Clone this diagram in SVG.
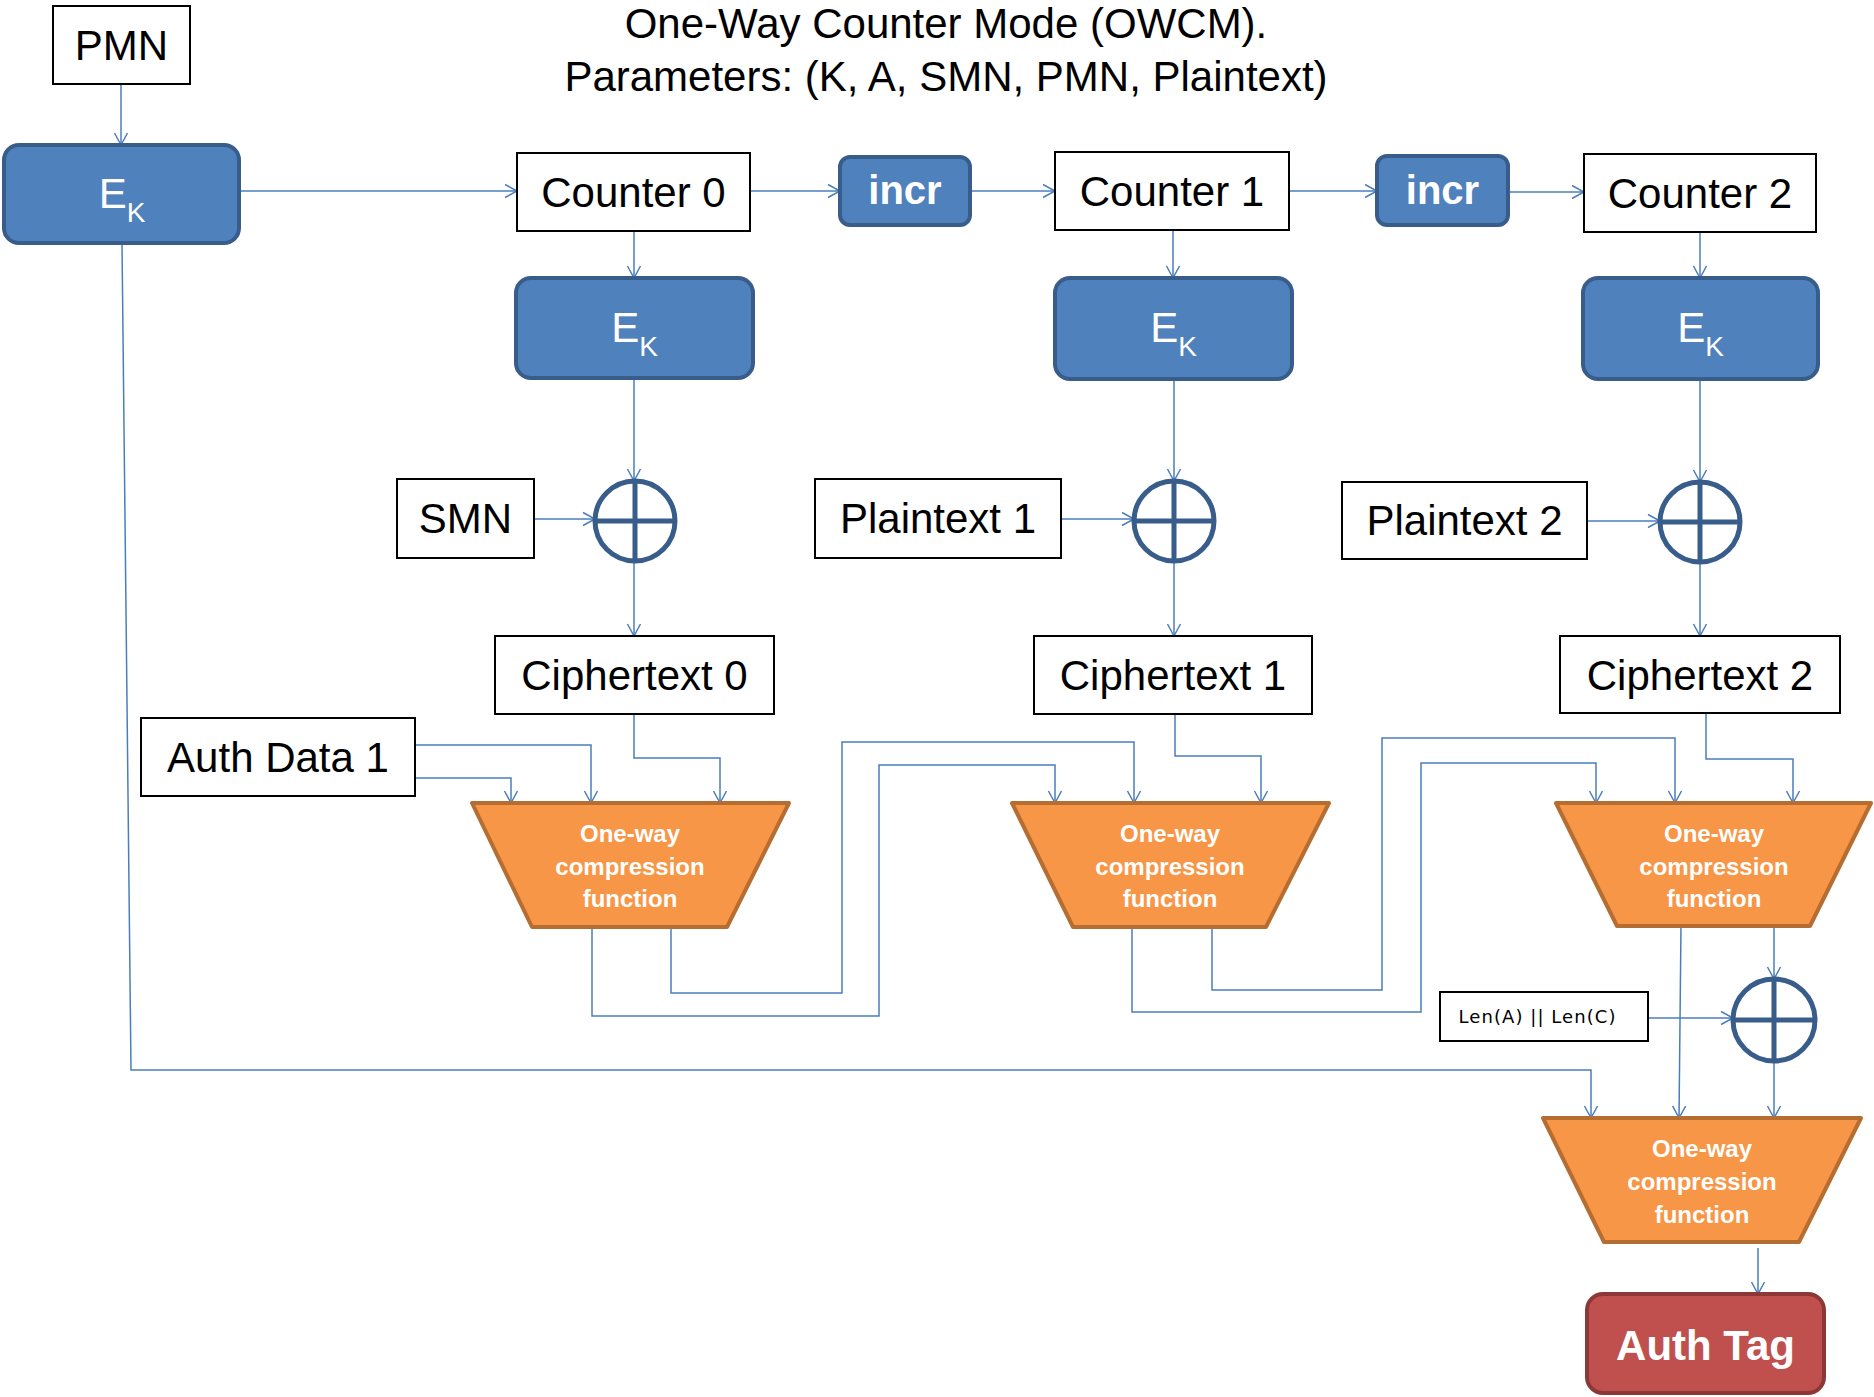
<svg xmlns="http://www.w3.org/2000/svg" width="1874" height="1397" viewBox="0 0 1874 1397">
<defs>
<style>
.box{fill:#fff;stroke:#000;stroke-width:2}
.blue{fill:#4f81bd;stroke:#385d8a;stroke-width:4}
.trap{fill:#f79646;stroke:#b66d31;stroke-width:4;stroke-linejoin:round}
.tag{fill:#c0504d;stroke:#8c3836;stroke-width:4}
.xorc{fill:#fff;stroke:#385d8a;stroke-width:5}
.xorl{stroke:#385d8a;stroke-width:5;fill:none}
.lbl{font-family:"Liberation Sans",Arial,sans-serif;font-size:42px;text-anchor:middle;fill:#000}
.ek{font-family:"Liberation Sans",Arial,sans-serif;font-size:42px;text-anchor:middle;fill:#fff}
.incr{font-family:"Liberation Sans",Arial,sans-serif;font-size:40px;font-weight:bold;text-anchor:middle;fill:#fff}
.tt{font-family:"Liberation Sans",Arial,sans-serif;font-size:24px;font-weight:bold;text-anchor:middle;fill:#fff}
.len{font-family:"DejaVu Sans",Verdana,sans-serif;font-size:18px;text-anchor:middle;fill:#000}
.auth{font-family:"Liberation Sans",Arial,sans-serif;font-size:42px;font-weight:bold;text-anchor:middle;fill:#fff}
#connectors path{fill:none;stroke:#4a7ebb;stroke-width:1.5;marker-end:url(#arr)}
</style>
<marker id="arr" markerWidth="16" markerHeight="16" refX="13" refY="7" orient="auto" markerUnits="userSpaceOnUse" overflow="visible">
<path d="M1,0.5 L13,7 L1,13.5" fill="none" stroke="#4a7ebb" stroke-width="1.5"/>
</marker>
</defs>
<rect width="1874" height="1397" fill="#fff"/>

<g id="title">
<text class="lbl" x="946" y="38" font-size="41">One-Way Counter Mode (OWCM).</text>
<text class="lbl" x="946" y="91">Parameters: (K, A, SMN, PMN, Plaintext)</text>
</g>

<g id="connectors">
<path d="M121,84 L121,145"/>
<path d="M239,191 L517,191"/>
<path d="M750,191 L840,191"/>
<path d="M970,191 L1055,191"/>
<path d="M1289,191 L1377,191"/>
<path d="M1508,192 L1584,192"/>
<path d="M634,231 L634,278"/>
<path d="M1173,230 L1173,278"/>
<path d="M1700,232 L1700,278"/>
<path d="M634,378 L634,481"/>
<path d="M1174,379 L1174,481"/>
<path d="M1700,379 L1700,482"/>
<path d="M522,519 L595,519"/>
<path d="M1061,519 L1134,519"/>
<path d="M1587,521 L1660,521"/>
<path d="M634,561 L634,636"/>
<path d="M1174,561 L1174,636"/>
<path d="M1700,562 L1700,636"/>
<path d="M415,745 L591,745 L591,803"/>
<path d="M415,778 L511,778 L511,803"/>
<path d="M634,714 L634,758 L720,758 L720,803"/>
<path d="M592,927 L592,1016 L879,1016 L879,765 L1055,765 L1055,803"/>
<path d="M671,927 L671,993 L842,993 L842,742 L1134,742 L1134,803"/>
<path d="M1175,714 L1175,756 L1261,756 L1261,803"/>
<path d="M1132,927 L1132,1012 L1421,1012 L1421,763 L1596,763 L1596,803"/>
<path d="M1212,927 L1212,990 L1382,990 L1382,738 L1675,738 L1675,803"/>
<path d="M1706,713 L1706,759 L1793,759 L1793,803"/>
<path d="M1774,926 L1774,979"/>
<path d="M1681,926 L1679,1118"/>
<path d="M1648,1018 L1733,1018"/>
<path d="M1774,1061 L1774,1118"/>
<path d="M122,243 L131,1070 L1591,1070 L1591,1118"/>
<path d="M1758,1248 L1758,1294"/>
</g>

<g id="pmn"><rect class="box" x="53" y="6" width="137" height="78"/><text class="lbl" x="121.5" y="60">PMN</text></g>
<g id="ek-pmn"><rect class="blue" x="4" y="145" width="235" height="98" rx="15"/><text class="ek" x="122" y="208">E<tspan dy="14" font-size="28">K</tspan></text></g>

<g id="counter0"><rect class="box" x="517" y="153" width="233" height="78"/><text class="lbl" x="633.5" y="207">Counter 0</text></g>
<g id="incr1"><rect class="blue" x="840" y="157" width="130" height="68" rx="10"/><text class="incr" x="905" y="204">incr</text></g>
<g id="counter1"><rect class="box" x="1055" y="152" width="234" height="78"/><text class="lbl" x="1172" y="206">Counter 1</text></g>
<g id="incr2"><rect class="blue" x="1377" y="156" width="131" height="69" rx="10"/><text class="incr" x="1442.5" y="204">incr</text></g>
<g id="counter2"><rect class="box" x="1584" y="154" width="232" height="78"/><text class="lbl" x="1700" y="208">Counter 2</text></g>

<g id="ek0"><rect class="blue" x="516" y="278" width="237" height="100" rx="15"/><text class="ek" x="634.5" y="342">E<tspan dy="14" font-size="28">K</tspan></text></g>
<g id="ek1"><rect class="blue" x="1055" y="278" width="237" height="101" rx="15"/><text class="ek" x="1173.5" y="342">E<tspan dy="14" font-size="28">K</tspan></text></g>
<g id="ek2"><rect class="blue" x="1583" y="278" width="235" height="101" rx="15"/><text class="ek" x="1700.5" y="342">E<tspan dy="14" font-size="28">K</tspan></text></g>

<g id="smn"><rect class="box" x="397" y="479" width="137" height="79"/><text class="lbl" x="465.5" y="533">SMN</text></g>
<g id="xor0"><circle class="xorc" cx="635" cy="521" r="40"/><path class="xorl" d="M595,521 H675 M635,481 V561"/></g>
<g id="plaintext1"><rect class="box" x="815" y="479" width="246" height="79"/><text class="lbl" x="938" y="533">Plaintext 1</text></g>
<g id="xor1"><circle class="xorc" cx="1174" cy="521" r="40"/><path class="xorl" d="M1134,521 H1214 M1174,481 V561"/></g>
<g id="plaintext2"><rect class="box" x="1342" y="482" width="245" height="77"/><text class="lbl" x="1464.5" y="535">Plaintext 2</text></g>
<g id="xor2"><circle class="xorc" cx="1700" cy="522" r="40"/><path class="xorl" d="M1660,522 H1740 M1700,482 V562"/></g>

<g id="ciphertext0"><rect class="box" x="495" y="636" width="279" height="78"/><text class="lbl" x="634.5" y="690">Ciphertext 0</text></g>
<g id="ciphertext1"><rect class="box" x="1034" y="636" width="278" height="78"/><text class="lbl" x="1173" y="690">Ciphertext 1</text></g>
<g id="ciphertext2"><rect class="box" x="1560" y="636" width="280" height="77"/><text class="lbl" x="1700" y="690">Ciphertext 2</text></g>
<g id="authdata1"><rect class="box" x="141" y="718" width="274" height="78"/><text class="lbl" x="278" y="772">Auth Data 1</text></g>

<g id="owcf0"><polygon class="trap" points="472,803 789,803 727,927 532,927"/>
<text class="tt" x="630" y="842">One-way</text><text class="tt" x="630" y="875">compression</text><text class="tt" x="630" y="907">function</text></g>
<g id="owcf1"><polygon class="trap" points="1012,803 1329,803 1266,927 1073,927"/>
<text class="tt" x="1170" y="842">One-way</text><text class="tt" x="1170" y="875">compression</text><text class="tt" x="1170" y="907">function</text></g>
<g id="owcf2"><polygon class="trap" points="1556,803 1871,803 1810,926 1617,926"/>
<text class="tt" x="1714" y="842">One-way</text><text class="tt" x="1714" y="875">compression</text><text class="tt" x="1714" y="907">function</text></g>

<g id="len"><rect class="box" x="1440" y="992" width="208" height="49"/><text class="len" x="1537" y="1023" textLength="157" lengthAdjust="spacing">Len(A) || Len(C)</text></g>
<g id="xor3"><circle class="xorc" cx="1774" cy="1020" r="41"/><path class="xorl" d="M1733,1020 H1815 M1774,979 V1061"/></g>

<g id="owcf-final"><polygon class="trap" points="1543,1118 1861,1118 1799,1242 1604,1242"/>
<text class="tt" x="1702" y="1157">One-way</text><text class="tt" x="1702" y="1190">compression</text><text class="tt" x="1702" y="1223">function</text></g>

<g id="authtag"><rect class="tag" x="1587" y="1294" width="237" height="99" rx="16"/><text class="auth" x="1705.5" y="1360">Auth Tag</text></g>
</svg>
